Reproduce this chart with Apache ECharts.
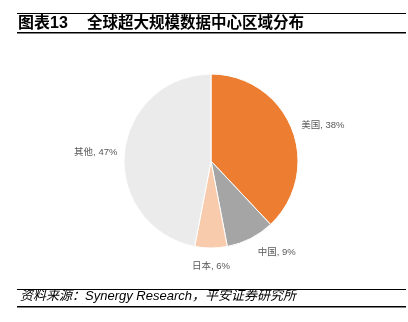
<!DOCTYPE html>
<html>
<head>
<meta charset="utf-8">
<script src="https://cdn.jsdelivr.net/npm/echarts@6/dist/echarts.min.js"></script>
<style>
html,body{margin:0;padding:0;background:#fff;}
#chart{width:408px;height:322px;}
</style>
</head>
<body>
<div id="chart"></div>
<script>
// Regional share of hyperscale data centers
const regions = ['美国', '中国', '日本', '其他'];
const shares = [38, 9, 6, 47];
const sliceColors = ['#ED7D31', '#A5A5A5', '#F8CBAD', '#EBEBEB'];
// Leader distance of each slice label (line itself is hidden)
const labelGaps = [10, 16, 14, 7];

const figureNo = '图表13';
const titleText = '全球超大规模数据中心区域分布';
const sourceText = '资料来源：Synergy Research，平安证券研究所';

const chart = echarts.init(document.getElementById('chart'));

const mixFont = '"Liberation Sans", "Noto Sans CJK SC", sans-serif';

// Mid angle (clockwise from 12 o'clock) of each slice, used to centre
// labels that sit straight below or above the pie.
const total = shares.reduce((a, b) => a + b, 0);
let acc = 0;
const midAngles = shares.map(v => { const m = (acc + v / 2) / total * 2 * Math.PI; acc += v; return m; });

chart.setOption({
  backgroundColor: '#fff',
  animation: false,
  graphic: [
    { type: 'rect', shape: { x: 17, y: 13, width: 389, height: 1 }, style: { fill: '#000' } },
    { type: 'text', left: 18, top: 16, style: { text: figureNo, font: 'bold 16px ' + mixFont, fill: '#000' } },
    { type: 'text', left: 87, top: 16, style: { text: titleText, font: 'bold 15.5px ' + mixFont, fill: '#000' } },
    { type: 'rect', shape: { x: 17, y: 32, width: 389, height: 1.5 }, style: { fill: '#000' } },
    { type: 'rect', shape: { x: 17, y: 289, width: 389, height: 1 }, style: { fill: '#000' } },
    { type: 'text', left: 20, top: 290, style: { text: sourceText, font: 'italic 13px ' + mixFont, fill: '#000' } },
    { type: 'rect', shape: { x: 17, y: 306, width: 389, height: 1.5 }, style: { fill: '#000' } }
  ],
  series: [{
    type: 'pie',
    center: [211, 161],
    radius: 87,
    startAngle: 90,
    clockwise: true,
    data: regions.map((name, i) => ({
      name,
      value: shares[i],
      itemStyle: { color: sliceColors[i] },
      labelLine: { length: labelGaps[i] }
    })),
    itemStyle: { borderColor: '#fff', borderWidth: 1 },
    label: {
      show: true,
      position: 'outside',
      distanceToLabelLine: 0,
      formatter: p => p.name + ', ' + p.value + '%',
      fontFamily: mixFont,
      fontSize: 9.5,
      color: '#595959'
    },
    labelLine: { show: false, length: 10, length2: 0 },
    labelLayout: p => {
      const s = Math.sin(midAngles[p.dataIndex]);
      const c = Math.cos(midAngles[p.dataIndex]);
      if (Math.abs(s) < 0.1) {
        return { align: 'center', verticalAlign: c < 0 ? 'top' : 'bottom' };
      }
      return {};
    },
    emphasis: { disabled: true }
  }]
});
</script>
</body>
</html>
